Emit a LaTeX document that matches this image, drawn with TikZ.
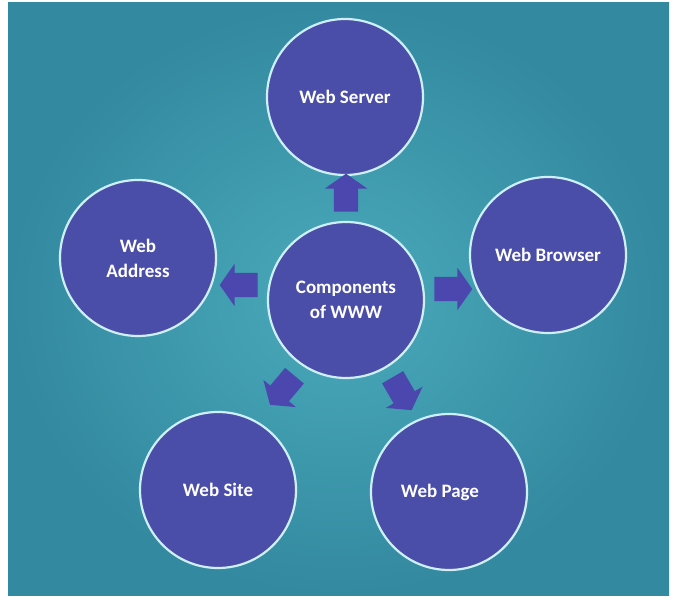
\documentclass[tikz,border=0pt]{standalone}
\usepackage{fontspec}
\setmainfont{Carlito}
\usetikzlibrary{shapes.arrows}
\definecolor{bgin}{HTML}{4AAABA}
\definecolor{bgout}{HTML}{3389A0}
\definecolor{disc}{HTML}{4A4EA8}
\definecolor{rim}{HTML}{CDEFF5}
\definecolor{arr}{HTML}{4B47AE}
\begin{document}
\begin{tikzpicture}[x=1pt,y=1pt,
  comp/.style={circle, draw=rim, line width=2.2pt, fill=disc, minimum size=156pt,
    inner sep=0pt, text=white, font=\fontsize{19}{25}\selectfont\bfseries, align=center},
  barrow/.style={single arrow, fill=arr, draw=none, inner xsep=0pt, inner ysep=12pt,
    single arrow head extend=9pt, single arrow tip angle=110, minimum height=38pt}]
\fill[white] (0,0) rectangle (673,602);
\shade[inner color=bgin, outer color=bgout] (8,6) rectangle (669,599);
\useasboundingbox (0,0) rectangle (673,602);

\node[comp] (C) at (346,302) {Components\\of WWW};
\node[comp] (S) at (345,505) {Web Server};
\node[comp] (A) at (138,344) {Web\\Address};
\node[comp] (B) at (548,347) {Web Browser};
\node[comp] (W) at (218,112) {Web Site};
\node[comp] (P) at (449,110) {Web Page\hspace*{18pt}};

\node[barrow, rotate=90]  (aS) at (346,405) {};
\node[barrow, rotate=180] (aA) at (243,317) {};
\node[barrow, rotate=0]   (aB) at (449,313) {};
\node[barrow, rotate=230] (aW) at (285,215) {};
\node[barrow, rotate=300] (aP) at (400,212) {};
\end{tikzpicture}
\end{document}
